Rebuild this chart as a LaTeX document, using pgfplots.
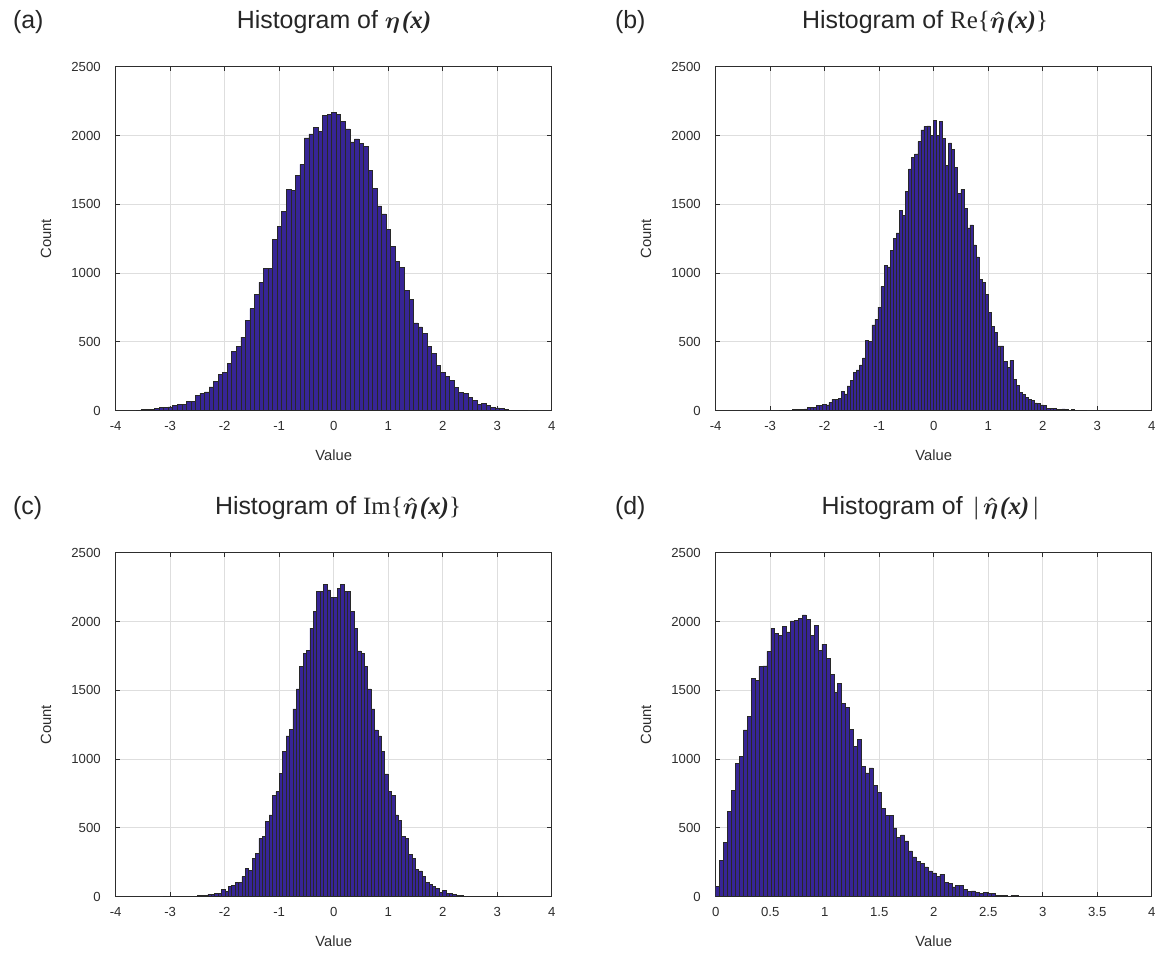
\documentclass[border=0pt]{standalone}
\usepackage{pgfplots}
\pgfplotsset{compat=1.18}
\usepackage{pgfplotstable}
\usepackage{fontspec}
\setmainfont{Liberation Sans}
\newfontfamily\tim{Liberation Serif}
\definecolor{barfill}{RGB}{55,37,150}
\definecolor{baredge}{RGB}{40,40,40}
\definecolor{gridc}{RGB}{222,222,222}
\definecolor{axc}{RGB}{45,45,45}
\newcommand{\etahat}{{\boldmath$\hat{\eta}$}\kern0.08em}

% (a) 86 bins, left edge -3.62, width 0.0833
\pgfplotstableread{
c
5
7
10
12
17
22
22
27
41
44
48
70
70
114
126
136
174
211
266
281
346
429
467
535
654
741
845
932
1037
1032
1247
1342
1446
1608
1603
1712
1791
1983
2012
2058
2029
2147
2151
2166
2156
2103
2048
1954
1976
1945
1921
1748
1615
1488
1430
1318
1194
1083
1041
877
809
639
610
562
465
417
329
279
252
218
167
133
126
97
73
48
53
41
22
20
15
10
5
4
3
2
0
}\dataA

% (b) 100 bins, left edge -2.825, width 0.0563
\pgfplotstableread{
c
3
3
2
5
7
7
12
12
13
22
24
24
39
36
48
43
60
82
80
92
140
123
181
220
278
297
333
384
512
505
623
664
753
901
1055
1046
1166
1251
1292
1456
1418
1594
1758
1843
1867
1956
2041
2067
2070
2000
2108
2000
2103
1978
1782
1946
1898
1770
1577
1608
1473
1328
1350
1205
1118
954
930
845
712
611
568
471
471
357
316
365
229
186
133
116
99
80
75
56
51
43
41
17
19
19
7
7
14
7
0
7
5
2
0
2
0
}\dataB

% (c) 100 bins, left edge -3.12, width 0.0624
\pgfplotstableread{
c
1
1
1
2
2
2
3
3
4
5
10
10
12
19
19
24
24
53
39
73
82
102
102
145
206
194
281
313
424
441
545
594
737
764
894
1054
1168
1214
1365
1510
1673
1769
1789
1951
2073
2218
2218
2270
2230
2178
2178
2240
2270
2220
2220
2073
1951
1786
1770
1673
1510
1365
1212
1168
1054
892
766
734
594
553
436
422
310
276
199
187
145
102
87
73
61
34
48
24
22
17
12
7
5
4
3
3
2
2
1
1
1
0
0
1
0
}\dataC

% (d) 100 bins, left edge 0, width 0.0361
\pgfplotstableread{
c
75
262
395
618
775
970
1018
1213
1309
1587
1570
1674
1677
1783
1952
1916
1899
1964
1925
2005
2007
2024
2048
2014
1898
1973
1789
1835
1730
1616
1488
1549
1403
1376
1218
1095
1145
949
900
936
811
756
642
593
592
500
430
450
406
333
290
258
242
217
188
174
145
164
104
97
72
80
85
53
36
43
29
24
29
24
24
12
10
7
5
10
7
5
4
3
3
2
2
2
1
1
1
1
1
0
0
1
0
0
0
0
0
0
0
1
0
}\dataD

\pgfplotsset{
  histax/.style={
    scale only axis, width=218bp, height=172bp,
    ymin=0, ymax=2500, ytick={0,500,1000,1500,2000,2500},
    axis line style={draw=axc, line width=0.5bp},
    grid=major, major grid style={draw=gridc, line width=0.5bp},
    tick style={draw=axc, line width=0.5bp},
    tick align=inside, major tick length=2.2bp,
    tick label style={font=\fontsize{6.6}{7}\selectfont, text=axc},
    yticklabel style={xshift=-4bp},
    xticklabel style={yshift=-2bp},
    /pgf/number format/assume math mode=true,
    /pgf/number format/1000 sep={},
    scaled y ticks=false, scaled x ticks=false,
    xlabel={Value}, ylabel={Count},
    label style={font=\fontsize{7.4}{8}\selectfont, text=axc},
    xlabel style={at={(axis description cs:0.5,-0.13)}, anchor=center},
    ylabel style={at={(axis description cs:-0.16,0.5)}, anchor=center},
  },
  histbar/.style={ybar interval, fill=barfill, draw=baredge, line width=0.25bp},
}

\begin{document}
\begin{tikzpicture}
\useasboundingbox (0,0) rectangle (578bp,478bp);

\begin{axis}[histax, at={(57.85bp,272.65bp)}, anchor=south west,
  xmin=-4, xmax=4, xtick={-4,-3,-2,-1,0,1,2,3,4}]
\addplot[histbar] table[x expr={-3.62+0.0833*\coordindex}, y=c] {\dataA};
\end{axis}

\begin{axis}[histax, at={(357.85bp,272.65bp)}, anchor=south west,
  xmin=-4, xmax=4, xtick={-4,-3,-2,-1,0,1,2,3,4}]
\addplot[histbar] table[x expr={-2.825+0.0563*\coordindex}, y=c] {\dataB};
\end{axis}

\begin{axis}[histax, at={(57.85bp,29.65bp)}, anchor=south west,
  xmin=-4, xmax=4, xtick={-4,-3,-2,-1,0,1,2,3,4}]
\addplot[histbar] table[x expr={-3.12+0.0624*\coordindex}, y=c] {\dataC};
\end{axis}

\begin{axis}[histax, at={(357.85bp,29.65bp)}, anchor=south west,
  xmin=0, xmax=4, xtick={0,0.5,1,1.5,2,2.5,3,3.5,4}]
\addplot[histbar] table[x expr={0.0361*\coordindex}, y=c] {\dataD};
\end{axis}

\begin{scope}[every node/.style={font=\fontsize{12.5}{14}\selectfont, text=black!85}]
\node[anchor=west] at (3bp,467bp) {(a)};
\node[anchor=west] at (304bp,467bp) {(b)};
\node[anchor=west] at (3bp,224bp) {(c)};
\node[anchor=west] at (304bp,224bp) {(d)};
\node at (167bp,467bp) {Histogram of {\boldmath$\eta$}\kern0.08em{\tim\bfseries\itshape (x)}};
\node at (462.5bp,467bp) {Histogram of {\tim Re\{}\etahat{\tim\bfseries\itshape (x)}{\tim\}}};
\node at (169bp,224bp) {Histogram of {\tim Im\{}\etahat{\tim\bfseries\itshape (x)}{\tim\}}};
\node at (465bp,224bp) {Histogram of {\tim\,|\,}\etahat{\tim\bfseries\itshape (x)}{\tim\,|}};
\end{scope}
\end{tikzpicture}
\end{document}
